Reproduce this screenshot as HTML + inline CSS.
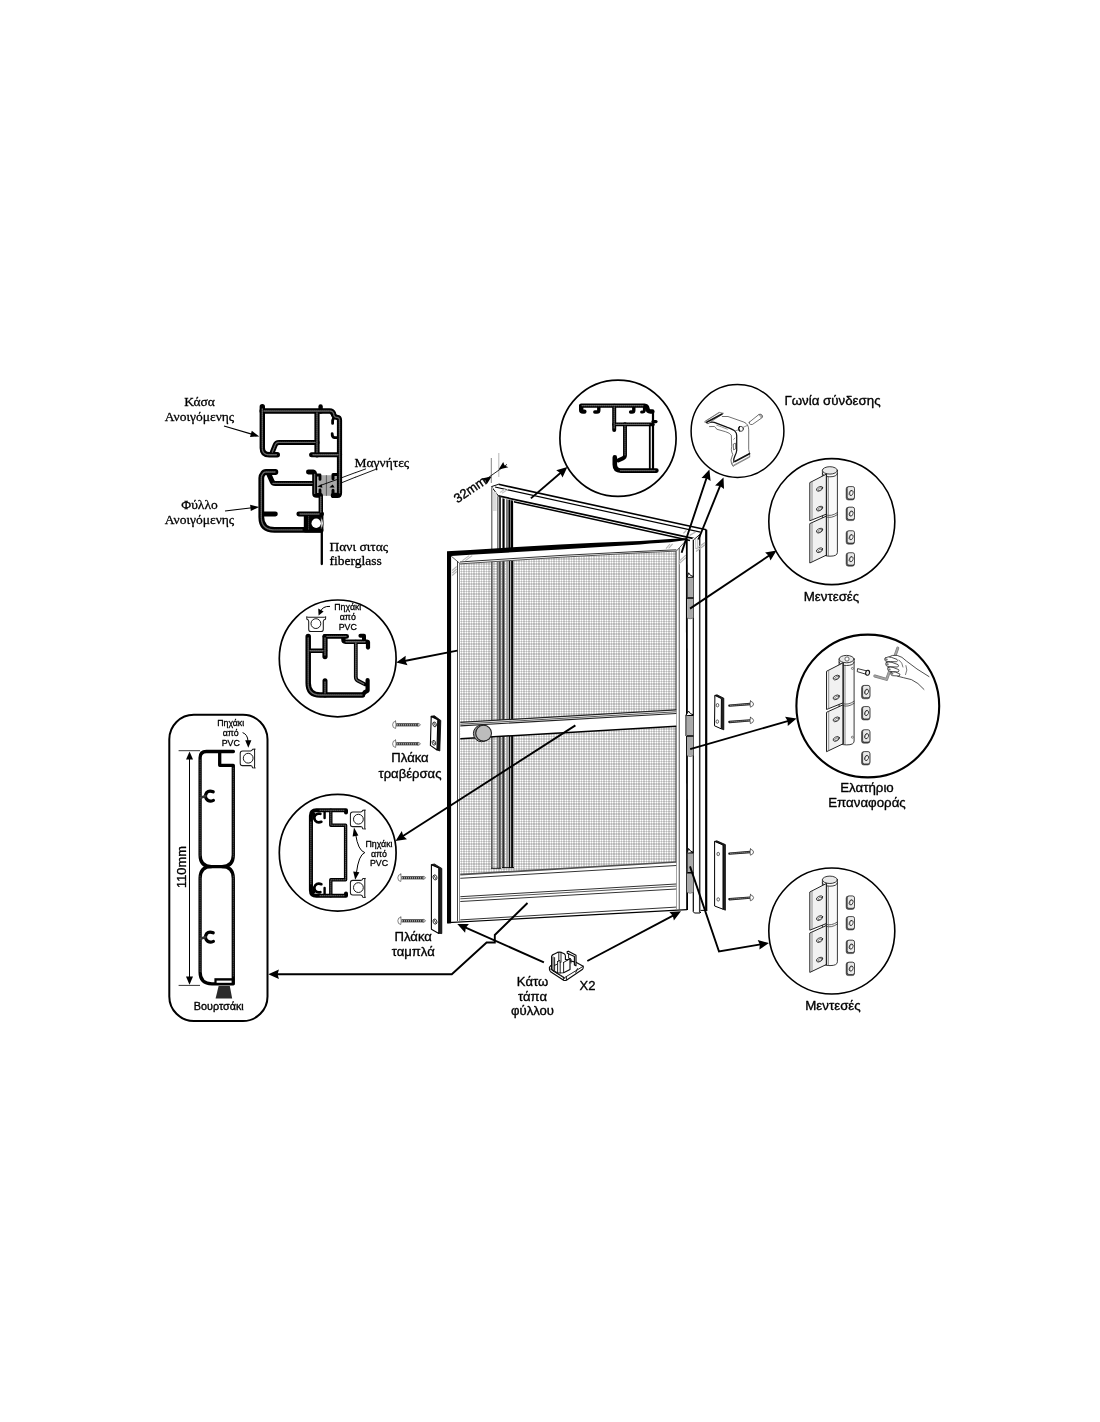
<!DOCTYPE html>
<html lang="el">
<head>
<meta charset="utf-8">
<title>Σίτα ανοιγόμενη - εξαρτήματα</title>
<style>
html,body{margin:0;padding:0;background:#fff;}
body{width:1100px;height:1422px;overflow:hidden;}
svg{display:block;will-change:transform;}
text{font-family:"Liberation Sans",sans-serif;fill:#000;stroke:#000;stroke-width:.35px;stroke-linejoin:round;}
.serif{font-family:"Liberation Serif",serif;stroke-width:.3px;}
.sm{stroke-width:.3px;}
.c{text-anchor:middle;}
.k{fill:none;stroke:#000;}
.pf{fill:none;stroke:#000;stroke-linecap:round;stroke-linejoin:round;}
.ph{fill:none;stroke:#666;stroke-linecap:round;stroke-linejoin:round;}
.g{fill:none;stroke:#555;stroke-width:.8;stroke-linecap:round;stroke-linejoin:round;}
</style>
</head>
<body>
<svg width="1100" height="1422" viewBox="0 0 1100 1422">
<defs>
<pattern id="mesh" width="5" height="5" patternUnits="userSpaceOnUse">
<rect width="5" height="5" fill="#b9b9b9"/>
<path d="M0 0h1v5h-1zM2 0h1v5h-1zM0 0h5v1h-5zM0 2h5v1h-5z" fill="#d8d8d8"/>
<path d="M0 0h1v1h-1zM2 0h1v1h-1zM0 2h1v1h-1zM2 2h1v1h-1z" fill="#fff"/>
</pattern>
</defs>
<rect width="1100" height="1422" fill="#fff"/>
<!-- 05_defs.svg -->
<defs>
<g id="pvc" fill="#fff" stroke="#1a1a1a" stroke-width="1.05" stroke-linejoin="round">
<path d="M-9.2 -6.9 Q-8 -6 -6.8 -6.4 H7.2 Q8.6 -6 9.8 -6.9 L9.6 -4.4 Q7.6 -4 7.4 -2.4 V5.6 Q7.4 8 5 8 H-4.8 Q-7.2 8 -7.2 5.6 V-2.4 Q-7.4 -4 -9 -4.4 Z"/>
<circle r="4.9" stroke-width="1"/>
</g>
<g id="hinge" stroke="#222" stroke-width=".9" stroke-linejoin="round" stroke-linecap="round">
<!-- barrel -->
<path d="M822.4 470.4 V552.4 Q822.6 556.2 830 556.2 Q837.4 556.2 837.4 552.4 V470.4 Z" fill="#fafafa"/>
<ellipse cx="829.9" cy="470.4" rx="7.5" ry="3.7" fill="#e9e9e9"/>
<path d="M822.4 473.4 Q823 476.8 829.9 476.8 Q836.8 476.8 837.4 473.4" fill="none"/>
<path d="M826 514.8 Q831 517 837.4 512.6 M826 516.8 Q831 519 837.4 514.6" fill="none" stroke-width=".7"/>
<!-- leaves -->
<path d="M826.2 474.2 L809.8 482.6 V520.8 L826.2 514.2 Z" fill="#f1f1f1" stroke-width="1"/>
<path d="M826.2 516.2 L809.8 523.6 V563 L826.2 555.2 Z" fill="#f1f1f1" stroke-width="1"/>
<path d="M812 481.8 V519.8 M812 522.8 V561.8" fill="none" stroke="#666" stroke-width=".7"/>
<path d="M826.4 474.4 V555.4" fill="none" stroke-width="1.2"/>
<path d="M828.3 476.8 V556" fill="none" stroke="#555" stroke-width=".7"/>
<!-- slots -->
<g fill="#fff" stroke="#222" stroke-width=".8">
<ellipse cx="819.6" cy="488.8" rx="3.4" ry="2" transform="rotate(-27 819.6 488.8)"/>
<ellipse cx="819.6" cy="508.6" rx="3.4" ry="2" transform="rotate(-27 819.6 508.6)"/>
<ellipse cx="819.6" cy="530.6" rx="3.4" ry="2" transform="rotate(-27 819.6 530.6)"/>
<ellipse cx="819.6" cy="550.2" rx="3.4" ry="2" transform="rotate(-27 819.6 550.2)"/>
</g>
<g fill="none" stroke="#444" stroke-width=".6">
<ellipse cx="819.9" cy="489.1" rx="2.2" ry="1" transform="rotate(-27 819.9 489.1)"/>
<ellipse cx="819.9" cy="508.9" rx="2.2" ry="1" transform="rotate(-27 819.9 508.9)"/>
<ellipse cx="819.9" cy="530.9" rx="2.2" ry="1" transform="rotate(-27 819.9 530.9)"/>
<ellipse cx="819.9" cy="550.5" rx="2.2" ry="1" transform="rotate(-27 819.9 550.5)"/>
</g>
</g>
<g id="nut" stroke="#222" stroke-linejoin="round">
<rect x="-4.3" y="-6.5" width="8.4" height="13.3" rx="2.2" fill="#555" stroke-width=".5"/>
<rect x="-3.2" y="-6.6" width="7.3" height="12.3" rx="1.9" fill="#e9e9e9" stroke-width=".7"/>
<ellipse cx=".6" cy="-.5" rx="1.8" ry="2.7" transform="rotate(22)" fill="#b5b5b5" stroke-width=".8"/>
<ellipse cx="1" cy="-.5" rx=".9" ry="1.6" transform="rotate(22)" fill="#fff" stroke="none"/>
</g>
</defs>

<!-- 10_door.svg -->
<g id="frame-back">
<!-- top beam -->
<polygon points="498.5,484.3 706.4,529.8 706.4,533 694,540.2 512.6,500.9 495.2,497 491.5,486.6" fill="#fff"/>
<path d="M498.5 484.3 L706.4 529.8" class="k" stroke-width="1.6"/>
<path d="M495 487 L700.5 532.2" class="k" stroke-width="1.2"/>
<path d="M498.3 495.9 L694 538.6" class="k" stroke-width="1.7"/>
<path d="M512.6 501.4 L690 540.4" class="k" stroke-width="1.5"/>
<path d="M491.5 486.6 L498.5 484.3 M491.5 486.6 L498.3 495.9 L498.3 500" class="k" stroke-width="1"/>
<path d="M500 492.5 l6 -4 M502 493.2 l6 -4" stroke="#c4c4c4" stroke-width="1.1" fill="none"/>
<rect x="492.4" y="492" width="4.2" height="19" fill="#dcdcdc"/>
<!-- right post -->
<rect x="692.6" y="538" width="13.8" height="373" fill="#fff"/>
<line x1="693.3" y1="540" x2="693.3" y2="911" stroke="#000" stroke-width="1.2"/>
<line x1="699.7" y1="535" x2="699.7" y2="912.5" stroke="#333" stroke-width="1.5"/>
<line x1="706.2" y1="529.8" x2="706.2" y2="910.5" stroke="#000" stroke-width="2.2"/>
<path d="M692.8 911 L694.4 913 H700 L701 912 M700.6 910.4 H707.3" class="k" stroke-width="1"/>
<path d="M693.4 540 L700.9 533.5" class="k" stroke-width=".9"/>
<path d="M696 549 l9 -6.6 M696 551.4 l9 -6.6 M683.4 533.4 l3 -3 M689.6 535.4 l6 -3.4" stroke="#b4b4b4" stroke-width="1.3" fill="none"/><path d="M695.6 539 v10 M697.4 538 v11" stroke="#c8c8c8" stroke-width="1" fill="none"/>
</g>
<g id="door">
<!-- post above the door -->
<g id="post-above">
<rect x="491" y="487.5" width="1" height="64.5" fill="#808080"/>
<rect x="492" y="487.5" width="1" height="64.5" fill="#c0c0c0"/>
<rect x="497" y="496.5" width="1" height="55.5" fill="#808080"/>
<rect x="498" y="496.5" width="1" height="55.5" fill="#b0b0b0"/>
<rect x="499" y="496.5" width="1" height="55.5" fill="#383838"/>
<rect x="500" y="496.5" width="1" height="55.5" fill="#303030"/>
<rect x="502" y="498.3" width="1" height="53.7" fill="#707070"/>
<rect x="503" y="498.5" width="1" height="53.5" fill="#000000"/>
<rect x="504" y="498.7" width="1" height="53.3" fill="#606060"/>
<rect x="506" y="499.2" width="1" height="52.8" fill="#787878"/>
<rect x="507" y="499.4" width="1" height="52.6" fill="#808080"/>
<rect x="508" y="499.6" width="1" height="52.4" fill="#606060"/>
<rect x="509" y="499.8" width="1" height="52.2" fill="#000000"/>
<rect x="510" y="500.1" width="1" height="51.9" fill="#787878"/>
<rect x="511" y="500.3" width="1" height="51.7" fill="#000000"/>
<rect x="512" y="500.5" width="1" height="51.5" fill="#000000"/>
<rect x="513" y="500.7" width="1" height="51.3" fill="#e0e0e0"/>
</g>
<!-- mesh -->
<polygon points="460,563.6 470,563 560,557.2 640,552.7 676.4,551 676.2,862 460,875" fill="url(#mesh)"/>
<!-- left post of fixed frame seen through mesh -->
<g id="post-through">
<rect x="491" y="558.0" width="1" height="310.0" fill="#606060"/>
<rect x="492" y="558.0" width="1" height="310.0" fill="#909090"/>
<rect x="497" y="558.0" width="1" height="310.0" fill="#7c7c7c"/>
<rect x="498" y="558.0" width="1" height="310.0" fill="#a0a0a0"/>
<rect x="499" y="558.0" width="1" height="310.0" fill="#505050"/>
<rect x="500" y="558.0" width="1" height="310.0" fill="#707070"/>
<rect x="502" y="558.0" width="1" height="310.0" fill="#686868"/>
<rect x="503" y="558.0" width="1" height="310.0" fill="#303030"/>
<rect x="504" y="558.0" width="1" height="310.0" fill="#888888"/>
<rect x="506" y="558.0" width="1" height="310.0" fill="#b0b0b0"/>
<rect x="507" y="558.0" width="1" height="310.0" fill="#a2a2a2"/>
<rect x="508" y="558.0" width="1" height="310.0" fill="#b0b0b0"/>
<rect x="509" y="558.0" width="1" height="310.0" fill="#101010"/>
<rect x="510" y="558.0" width="1" height="310.0" fill="#b0b0b0"/>
<rect x="511" y="558.0" width="1" height="310.0" fill="#202020"/>
<rect x="512" y="558.0" width="1" height="310.0" fill="#080808"/>
<rect x="513" y="558.0" width="1" height="310.0" fill="#a0a0a0"/>
<path d="M491 868.3 H501 M502 867.6 H514" class="k" stroke-width=".9"/>
</g>
<!-- door frame strips (white) -->
<polygon points="448,552 686.6,539.6 676.4,551 640,552.8 560,557.3 470,563.2 460,563.9" fill="#fff"/>
<polygon points="448,552 460,562 460,922 448,923" fill="#fff"/>
<polygon points="676.4,551 686.6,539.6 687.3,910 676.2,909.2" fill="#fff"/>
<!-- inner frame edges -->
<path d="M460 562 L470 561.3 L560 555.5 L640 551.4 L676.4 549.8" stroke="#333" stroke-width="1" fill="none" stroke-linejoin="round"/>
<path d="M460 563.9 L470 563.2 L560 557.3 L640 552.8 L676.4 551.1" stroke="#555" stroke-width="1" fill="none" stroke-linejoin="round"/>
<path d="M457.5 561 L457.5 921" stroke="#404040" stroke-width="1" fill="none"/>
<path d="M459.5 563.4 L459.5 921" stroke="#909090" stroke-width="1" fill="none"/>
<path d="M676 551.2 L676 909.2" stroke="#333" stroke-width="1.1" fill="none"/>
<path d="M679.3 548 L679.3 909.6" stroke="#777" stroke-width="1.3" fill="none"/>
<path d="M450.5 555.5 L460 563.6 M686 540.5 L676.4 551" stroke="#333" stroke-width=".8" fill="none"/>
<path d="M462.4 560.6 l6.8 -5 M465.4 560.6 l6.8 -5 M452.2 575.5 l4.5 -4 M452.2 573 l4.5 -4 M452.2 570.5 l4.5 -4 M666 548.6 l4 -4.6 M668.6 548.4 l4 -4.6 M678.8 564 l7 -6.4 M678.8 561.6 l7 -6.4" stroke="#b5b5b5" stroke-width="1.1" fill="none"/>
<!-- traverse bar -->
<polygon points="460.3,722.4 676.3,710 676.3,726.4 460.3,738.7" fill="#fff"/>
<path d="M460.3 722.3 L676.3 709.9" stroke="#222" stroke-width="1.2" fill="none"/>
<path d="M460.3 724.2 L676.3 711.8" stroke="#555" stroke-width="1" fill="none"/>
<path d="M460.3 725.9 L676.3 713.5" stroke="#222" stroke-width="1.1" fill="none"/>
<path d="M460.3 738.7 L676.3 726.3" class="k" stroke-width="1.5"/>
<!-- knob -->
<ellipse cx="481.6" cy="733.4" rx="8.2" ry="8.4" fill="#9b9b9b" stroke="#222" stroke-width="1"/>
<circle cx="483.6" cy="733.2" r="7.9" fill="#bcbcbc" stroke="#222" stroke-width="1.1"/>
<!-- bottom panel -->
<polygon points="460.3,875 676.2,862.2 676.2,909 460.3,921" fill="#fff"/>
<path d="M460.3 874.6 L676.2 862" stroke="#505050" stroke-width="1.7" fill="none"/>
<path d="M460.3 878.3 L676.2 865.5" stroke="#333" stroke-width="1" fill="none"/>
<path d="M460.3 896.7 L676.2 884" stroke="#333" stroke-width="1" fill="none"/>
<path d="M460.3 898.8 L676.2 886.1" stroke="#555" stroke-width="1" fill="none"/>
<path d="M460.3 901.5 L676.2 889" stroke="#333" stroke-width="1" fill="none"/>
<path d="M460.3 919.9 L676.2 907.1" stroke="#333" stroke-width="1" fill="none"/>
<!-- outer edges -->
<polygon points="447,551.3 470,549.9 560,544.5 596,542.7 640,540.9 670,539.1 686.9,538.3 686.9,540 670,542.3 650,543.5 640,544.5 596,547.3 560,549.6 470,554.8 451.1,556 451.1,923.2 447,923.4" fill="#000"/>
<path d="M686.8 538.5 L687.1 910" class="k" stroke-width="1.8"/>
<path d="M448 922.6 L687.1 909.7" class="k" stroke-width="1.2"/>
</g>
<g id="hinges">
<rect x="687.0" y="577" width="6.4" height="20.9" fill="#a9a9a9"/>
<rect x="687" y="597.9" width="6.4" height="20.1" fill="#a9a9a9"/>
<path d="M687.2 577 H693.4 M687 597.9 H693.4" stroke="#000" stroke-width="1.5" fill="none"/>
<path d="M687.3 577 L688.6 572.8 Q690 576 693 576.4" stroke="#000" stroke-width="1" fill="#fff"/>
<path d="M687.3 577 V597.9" stroke="#333" stroke-width="1" fill="none"/>
<path d="M687.4 618 Q690 619.6 693 618" stroke="#666" stroke-width=".8" fill="#a9a9a9"/>
<rect x="685.6" y="715.3" width="7.8" height="20.7" fill="#a9a9a9"/>
<rect x="687" y="736" width="6.4" height="19.7" fill="#a9a9a9"/>
<path d="M685.8000000000001 715.3 H693.4 M687 736 H693.4" stroke="#000" stroke-width="1.5" fill="none"/>
<path d="M685.9 715.3 L688.6 711.0999999999999 Q690 714.3 693 714.6999999999999" stroke="#000" stroke-width="1" fill="#fff"/>
<path d="M685.9 715.3 V736" stroke="#333" stroke-width="1" fill="none"/>
<path d="M687.4 755.7 Q690 757.3000000000001 693 755.7" stroke="#666" stroke-width=".8" fill="#a9a9a9"/>
<rect x="687.0" y="852.7" width="6.4" height="20.0" fill="#a9a9a9"/>
<rect x="687" y="872.7" width="6.4" height="19.7" fill="#a9a9a9"/>
<path d="M687.2 852.7 H693.4 M687 872.7 H693.4" stroke="#000" stroke-width="1.5" fill="none"/>
<path d="M687.3 852.7 L688.6 848.5 Q690 851.7 693 852.1" stroke="#000" stroke-width="1" fill="#fff"/>
<path d="M687.3 852.7 V872.7" stroke="#333" stroke-width="1" fill="none"/>
<path d="M687.4 892.4 Q690 894.0 693 892.4" stroke="#666" stroke-width=".8" fill="#a9a9a9"/>
</g>

<!-- 20_circles.svg -->
<g id="circles" fill="#fff" stroke="#000" stroke-width="1.8">
<circle cx="618" cy="438.3" r="58.1" stroke-width="1.7"/>
<circle cx="737.5" cy="431" r="46.4" stroke-width="1.5"/>
<circle cx="831.8" cy="521.6" r="63" stroke-width="1.6"/>
<circle cx="867.8" cy="706" r="71.4" stroke-width="2.1"/>
<circle cx="831.8" cy="931" r="63" stroke-width="1.6"/>
<circle cx="337.7" cy="658.4" r="58.4" stroke-width="1.7"/>
<circle cx="337.7" cy="852.7" r="58.4" stroke-width="1.7"/>
<rect x="169.3" y="714.8" width="98.2" height="306.2" rx="24.5" ry="24.5" stroke-width="2"/>
</g>

<!-- 30_arrows.svg -->
<g id="arrows">
<polyline points="530.9,498.4 561.0,472.5" fill="none" stroke="#000" stroke-width="1.9" stroke-linejoin="miter"/><polygon points="567.4,467.0 562.5,477.6 560.3,473.1 556.2,470.3" fill="#000"/>
<polyline points="681.6,552.8 706.7,477.5" fill="none" stroke="#000" stroke-width="1.9" stroke-linejoin="miter"/><polygon points="709.4,469.5 710.6,481.1 706.4,478.3 701.5,478.0" fill="#000"/>
<polyline points="698.4,539.5 720.3,485.4" fill="none" stroke="#000" stroke-width="1.9" stroke-linejoin="miter"/><polygon points="723.5,477.5 724.0,489.1 720.0,486.1 715.1,485.5" fill="#000"/>
<polyline points="690.0,608.6 769.6,555.3" fill="none" stroke="#000" stroke-width="1.9" stroke-linejoin="miter"/><polygon points="776.6,550.6 770.5,560.5 768.8,555.8 765.1,552.5" fill="#000"/>
<polyline points="690.2,749.2 788.5,720.8" fill="none" stroke="#000" stroke-width="1.9" stroke-linejoin="miter"/><polygon points="796.6,718.4 787.8,726.0 787.6,721.0 785.1,716.7" fill="#000"/>
<polyline points="690.0,866.4 719.0,951.5 760.6,944.4" fill="none" stroke="#000" stroke-width="1.9" stroke-linejoin="miter"/><polygon points="769.0,943.0 759.4,949.5 759.8,944.6 757.7,940.0" fill="#000"/>
<polyline points="457.3,650.6 404.5,661.0" fill="none" stroke="#000" stroke-width="1.9" stroke-linejoin="miter"/><polygon points="396.2,662.6 405.7,655.8 405.4,660.8 407.5,665.3" fill="#000"/>
<polyline points="575.4,725.4 402.6,836.3" fill="none" stroke="#000" stroke-width="1.9" stroke-linejoin="miter"/><polygon points="395.5,840.9 401.8,831.1 403.3,835.9 407.0,839.2" fill="#000"/>
<polyline points="527.5,903.0 494.8,935.0 494.8,942.5 486.6,942.5 451.8,974.2 276.8,974.2" fill="none" stroke="#000" stroke-width="1.9" stroke-linejoin="miter"/><polygon points="268.3,974.2 278.9,969.4 277.6,974.2 278.9,979.0" fill="#000"/>
<polyline points="543.9,962.3 465.1,927.4" fill="none" stroke="#000" stroke-width="1.9" stroke-linejoin="miter"/><polygon points="457.3,924.0 468.9,923.9 465.8,927.8 465.1,932.7" fill="#000"/>
<polyline points="587.3,961.0 673.5,915.3" fill="none" stroke="#000" stroke-width="1.9" stroke-linejoin="miter"/><polygon points="681.0,911.3 673.9,920.5 672.8,915.7 669.4,912.0" fill="#000"/>
<polyline points="224.0,426.0 252.5,434.4" fill="none" stroke="#000" stroke-width="1.1" stroke-linejoin="miter"/><polygon points="259.3,436.4 250.0,437.0 250.9,433.9 251.8,430.8" fill="#000"/>
<polyline points="225.0,511.0 252.2,507.7" fill="none" stroke="#000" stroke-width="1.1" stroke-linejoin="miter"/><polygon points="259.2,506.9 250.8,511.1 250.5,507.9 250.1,504.8" fill="#000"/>
<path d="M355 472.8 L366 468.8 M355 477.4 L375.6 469.4" stroke="#000" stroke-width=".9" fill="none"/>
</g>

<!-- 40_text.svg -->
<g id="labels">
<text class="serif c" font-size="13.5" x="199.5" y="406">Κάσα</text>
<text class="serif c" font-size="13.5" x="199.5" y="421">Ανοιγόμενης</text>
<text class="serif c" font-size="13.5" x="199.5" y="509">Φύλλο</text>
<text class="serif c" font-size="13.5" x="199.5" y="524">Ανοιγόμενης</text>
<text class="serif" font-size="13.5" x="354.5" y="467.4">Μαγνήτες</text>
<text class="serif" font-size="13.5" x="329.5" y="550.7">Πανι σιτας</text>
<text class="serif" font-size="13.5" x="329.5" y="564.7">fiberglass</text>
<text font-size="13.3" x="784.4" y="405.4">Γωνία σύνδεσης</text>
<text class="c" font-size="13.3" x="831.5" y="601">Μεντεσές</text>
<text class="c" font-size="13.3" x="867" y="792">Ελατήριο</text>
<text class="c" font-size="13.3" x="867" y="807.1">Επαναφοράς</text>
<text class="c" font-size="13.3" x="833" y="1010">Μεντεσές</text>
<text class="c" font-size="13.1" x="410" y="762">Πλάκα</text>
<text class="c" font-size="13.1" x="410" y="778">τραβέρσας</text>
<text class="c" font-size="13.1" x="413.2" y="941.2">Πλάκα</text>
<text class="c" font-size="13.1" x="413.2" y="956.2">ταμπλά</text>
<text class="c" font-size="13.1" x="532.5" y="986.2">Κάτω</text>
<text class="c" font-size="13.1" x="532.5" y="1001">τάπα</text>
<text class="c" font-size="13.1" x="532.5" y="1015.2">φύλλου</text>
<text font-size="13" x="579.5" y="989.5">X2</text>
<text class="c" font-size="10.8" x="218.8" y="1010">Βουρτσάκι</text>
<text class="c" font-size="12.9" transform="translate(186.3 867) rotate(-90)">110mm</text>
<text font-size="13" transform="translate(457.6 503.4) rotate(-34)">32mm</text>
<text class="c sm" font-size="8.8" x="347.8" y="610.3">Πηχάκι</text>
<text class="c sm" font-size="8.8" x="347.8" y="619.9">από</text>
<text class="c sm" font-size="8.8" x="347.8" y="629.6">PVC</text>
<text class="c sm" font-size="8.8" x="379" y="846.8">Πηχάκι</text>
<text class="c sm" font-size="8.8" x="379" y="856.5">από</text>
<text class="c sm" font-size="8.8" x="379" y="866.1">PVC</text>
<text class="c sm" font-size="8.8" x="230.7" y="725.8">Πηχάκι</text>
<text class="c sm" font-size="8.8" x="230.7" y="735.7">από</text>
<text class="c sm" font-size="8.8" x="230.7" y="745.5">PVC</text>
</g>

<!-- 50_section.svg -->
<g id="section-topleft">
<!-- magnets -->
<rect x="315.6" y="475.2" width="22" height="20.6" fill="#a9a9a9"/>
<line x1="326.4" y1="475.2" x2="326.4" y2="495.8" stroke="#444" stroke-width=".8"/>
<!-- Kasa (frame) profile -->
<g class="pf" stroke-width="5.4">
<path d="M262.3 406.8 V448 Q262.3 454.8 269.3 454.8 H277.3"/>
<path d="M262.3 411 H329.5 Q332.6 411 333.4 414" stroke-width="5.6"/>
<path d="M333.4 414 Q334.2 417.2 337 417.3 Q339.5 417.5 339.5 420.3 V493 Q339.5 495.4 337.5 495.4 H333.4" stroke-width="5.2"/>
<path d="M320.6 406.4 V411.6" stroke-width="4.4"/>
<path d="M317 411.6 V454.8" stroke-width="5.2"/>
<path d="M317 442.4 H279 Q276.2 442.4 275.3 444.8 L271.8 453.5" stroke-width="5"/>
<path d="M311.6 454.8 H339.6" stroke-width="5"/>
</g>
<g class="pf" stroke-width="2.8">
<path d="M334 417 L332.6 420.6 V423.4"/>
<path d="M338.5 437.6 H334.4 Q332 437.2 332.2 433.6"/>
<path d="M337.6 474.4 H333 V478.8 M337.6 494.8 H333 V490.2" stroke-width="3"/>
</g>
<!-- Fyllo (leaf) profile -->
<g class="pf" stroke-width="5.8">
<path d="M275.4 472 H266 Q264 472 263 473.6 Q261.3 475.6 261.3 478 V517 Q261.3 529.9 274.6 529.9 H320.4"/>
<path d="M268.6 473.6 L272.2 481.6 Q273 483.4 275.2 483.4 H313.5" stroke-width="5"/>
<path d="M308.4 472 H313 Q314.6 472.2 314.6 474.4 V493.4 Q314.6 495.4 316.6 495.4 H320" stroke-width="4.8"/>
<path d="M320.8 495.4 V514" stroke-width="4.4"/>
<path d="M262.5 514 H275.4" stroke-width="4.8"/>
<path d="M298.8 514 H321.6" stroke-width="4.8"/>
</g>
<g class="pf" stroke-width="2.8">
<path d="M316 475 H320 V479.4 M316 494.4 H320 V490"/>
</g>
<polygon points="317.2,486.6 321.6,484.2 322.4,487.8" fill="#000"/><polygon points="329.4,487.4 332.6,484.4 334.6,487.4" fill="#000"/>
<path d="M320 485.6 L337.4 479.4 M342 477.6 L355.4 472.6 M342 482.6 L355.4 477.2" stroke="#000" stroke-width=".9" fill="none"/>
<!-- pvc holder in leaf -->
<rect x="303.8" y="512" width="19.6" height="20.6" rx="1.6" fill="#000"/>
<path d="M321 517.6 Q325.6 523.2 321 529 Z" fill="#fff" stroke="#333" stroke-width=".7"/>
<circle cx="316.2" cy="523.2" r="4.7" fill="#fff"/>
<path d="M308.6 516.4 V530" stroke="#777" stroke-width=".9" stroke-dasharray="1 1"/>
<!-- mesh cloth -->
<line x1="321.8" y1="531" x2="321.8" y2="564" stroke="#000" stroke-width="2.3" stroke-linecap="round"/>
<!-- hatch highlight -->
<g class="ph" stroke-width="1.4" stroke-dasharray="1 1">
<path d="M262.3 409 V448 Q262.3 454.8 269.3 454.8 H277"/>
<path d="M264 411 H329.5 Q333.4 411 333.8 414.6 Q334.2 417.4 337 417.4 Q339.5 417.6 339.5 420.3 V493"/>
<path d="M317 413 V453"/>
<path d="M315 442.4 H279 Q276.2 442.4 275.3 444.8 L272.4 452"/>
<path d="M313 454.8 H338"/>
<path d="M275 472 H266 Q264 472 263 473.6 Q261.3 475.6 261.3 478 V517 Q261.3 529.9 274.6 529.9 H302"/>
<path d="M273 483.4 H313"/>
<path d="M314.6 474.4 V493.4"/>
<path d="M320.8 497 V512"/>
<path d="M300 514 H320"/>
</g>
</g>

<!-- 51_topcircle.svg -->
<g id="profile-top" class="pf" stroke-width="4.4">
<path d="M584.4 411.6 H583 Q581.2 411.6 581.2 410 V405.6 H644.4 Q647 405.8 647.4 408.4 Q647.8 411.4 650.4 411.5 H652.4" />
<path d="M598.8 405.7 V410.2 Q598.8 412 597 412 H594.8" stroke-width="3.4"/>
<path d="M633.8 405.7 V410.2 Q633.8 412 632 412 H630.6" stroke-width="3.4"/>
<path d="M644.4 407 V410.4 Q644.2 412 642.4 412 H641.6" stroke-width="3"/>
<path d="M614.2 405.7 V430" stroke-width="4"/>
<path d="M614.2 424.4 H652.8" stroke-width="3.8"/>
<path d="M653 411.6 V470.6" stroke-width="2.2"/>
<path d="M649.8 424.3 V470.6" stroke-width="1.8"/>
<path d="M653 421.6 H656" stroke-width="3.2"/>
<path d="M625 424.3 V455.2 Q625 457.4 622.8 458.4 L618.4 460.4" stroke-width="3.9"/>
<path d="M614.8 457.4 V464.6 Q614.8 470.6 620.8 470.6 H656.4" stroke-width="4.6"/>
</g>
<g class="ph" stroke-width="1.1" stroke-dasharray="1 1">
<path d="M582 405.6 H644"/><path d="M614.2 407 V428"/><path d="M616 424.4 H650"/><path d="M625 426 V455"/><path d="M620.4 470.6 H655"/>
</g>

<!-- 52_circle1.svg -->
<g id="profile-c1" class="pf" stroke-width="5.5">
<path d="M308.2 636.4 V683 Q308.2 695 320.2 695 H362.4"/>
<path d="M308.2 650.8 H325" stroke-width="4.6"/>
<path d="M325 636.6 V656.6" stroke-width="5.2"/>
<path d="M325 636.4 H346.6" stroke-width="4.8"/>
<path d="M343.4 637 V639.6 Q343.4 641.7 345.5 641.7 H367" stroke-width="4.4"/>
<path d="M360.4 635.8 H364 V640" stroke-width="4"/>
<path d="M368 642 V647.6" stroke-width="4.2"/>
<path d="M355.8 641.7 V677 Q355.8 679.6 358 680.8 L365 684.4" stroke-width="3.8"/>
<path d="M367.6 680 V690.6 L364.6 692.4 L363 694.6" stroke-width="4.2"/>
<path d="M325 680.8 V695" stroke-width="5"/>
</g>
<g class="ph" stroke-width="1.4" stroke-dasharray="1 1">
<path d="M308.2 638 V683 Q308.2 695 320.2 695 H362"/><path d="M310 650.8 H324"/><path d="M325 638 V655"/><path d="M327 636.4 H346"/><path d="M346 641.7 H366"/><path d="M355.8 643 V677 Q355.8 679.6 358 680.8 L364 684"/><path d="M325 682 V693"/>
</g>
<use href="#pvc" x="315.9" y="623.6"/>
<path d="M330 606.4 Q322.6 606 320.4 611.6" class="k" stroke-width="1"/>
<polygon points="318.6,615.6 318.2,608.4 323.6,611.6" fill="#000"/>

<!-- 53_circle2.svg -->
<g id="profile-c2" class="pf" stroke-width="4">
<path d="M346 812.6 V810.3 H316.4 Q310.9 810.3 310.9 815.8 V890.2 Q310.9 895.7 316.4 895.7 H346 V893.4"/>
<path d="M330.8 810.3 V825.2 H345.6 V879.8 H330.8 V895.7" stroke-width="3.4"/>
<path d="M321.4 821.8 Q317.6 823.4 315.2 820.6 Q313.2 817.6 315.4 815 Q317.4 813 320.4 813.8" stroke-width="2.6"/>
<path d="M324.6 812.6 V818" stroke-width="2.4"/>
<path d="M321.4 884.2 Q317.6 882.6 315.2 885.4 Q313.2 888.4 315.4 891 Q317.4 893 320.4 892.2" stroke-width="2.6"/>
<path d="M324.6 893.4 V888" stroke-width="2.4"/>
</g>
<path d="M312.3 813 H315 V817 L313 820 V886 L315 889 V893 H312.3 Z" fill="#000"/>
<g class="ph" stroke-width="1" stroke-dasharray="1 1.1">
<path d="M310.9 822 V884"/><path d="M330.8 812 V825.2 H345.6 V879.8 H330.8 V894"/><path d="M320 810.3 H344"/><path d="M320 895.7 H344"/>
</g>
<use href="#pvc" transform="translate(358.4 819.2) rotate(90)"/>
<use href="#pvc" transform="translate(358.4 887.6) rotate(90)"/>
<path d="M364.8 852.6 Q358 850.6 355.6 834" class="k" stroke-width="1"/>
<path d="M364.8 852.6 Q358.6 855 356.4 873" class="k" stroke-width="1"/>
<polygon points="354,827.6 358.4,835.6 352.6,836.4" fill="#000"/>
<polygon points="355.2,879.8 353.2,871.4 359.4,872.2" fill="#000"/>

<!-- 54_box.svg -->
<g id="profile-box" class="pf" stroke-width="3.3">
<path d="M233.4 751.5 H206.4 Q200.1 751.5 200.1 757.8 V855 Q200.1 866.6 211.4 866.6 H222 Q233.3 866.6 233.3 855 V765.3 H219.7 V751.5"/>
<path d="M211.4 866.6 Q200.1 866.6 200.1 878.2 V972 Q200.1 983.8 212 983.8 H233.3 V878.2 Q233.3 866.6 222 866.6"/>
<path d="M213.4 800.4 Q208.8 802.4 206.2 798.6 Q204.6 795.6 206.6 792.6 Q209 790 213.2 791.8" stroke-width="3.2"/><path d="M201 797.6 L205.6 796" stroke="#333" stroke-width="2.4"/>
<path d="M213.4 941.4 Q208.8 943.4 206.2 939.6 Q204.6 936.6 206.6 933.6 Q209 931 213.2 932.8" stroke-width="3.2"/><path d="M201 938.6 L205.6 937" stroke="#333" stroke-width="2.4"/>
</g>
<g class="ph" stroke-width=".7" stroke-dasharray="1 1.2">
<path d="M200.1 760 V857"/><path d="M233.3 768 V857"/><path d="M200.1 876 V972"/><path d="M233.3 876 V976"/>
</g>
<rect x="214.4" y="978.2" width="19.8" height="6.6" fill="#000"/>
<rect x="216.6" y="980.6" width="15" height="2.2" fill="#fff"/>
<polygon points="218.6,986 229.8,986 232.2,998.4 215.6,998.4" fill="#2a2a2a"/>
<g class="k" stroke-width=".8">
<path d="M178.6 750.7 H200 M178.6 985.4 H200"/>
<path d="M189.5 756 V980" stroke-width="1"/>
</g>
<polygon points="189.5,751.4 193,759.6 186,759.6" fill="#000"/>
<polygon points="189.5,984.8 193,976.6 186,976.6" fill="#000"/>
<use href="#pvc" transform="translate(248.2 758.2) rotate(90)"/>
<path d="M242.6 732.6 Q247.6 734.4 248 741" class="k" stroke-width="1"/>
<polygon points="248.3,747.8 245.2,740.2 251.4,740.2" fill="#000"/>

<!-- 55_hinges.svg -->
<g id="hinge-top">
<use href="#hinge"/>
<use href="#nut" x="850.4" y="493.2"/><use href="#nut" x="850.4" y="513.8"/><use href="#nut" x="850.4" y="537.4"/><use href="#nut" x="850.4" y="559.4"/>
</g>
<g id="hinge-bottom" transform="translate(0 409.4)">
<use href="#hinge"/>
<use href="#nut" x="850.4" y="493.2"/><use href="#nut" x="850.4" y="513.8"/><use href="#nut" x="850.4" y="537.4"/><use href="#nut" x="850.4" y="559.4"/>
</g>
<g id="hinge-spring">
<use href="#hinge" transform="translate(16.7 188.7)"/>
<circle cx="847" cy="659" r="2.1" fill="#fff" stroke="#333" stroke-width=".7"/>
<circle cx="852.4" cy="668.4" r="1" fill="#fff" stroke="#333" stroke-width=".6"/>
<circle cx="852.4" cy="737.2" r="1" fill="#fff" stroke="#333" stroke-width=".6"/>
<use href="#nut" x="865.8" y="692"/><use href="#nut" x="865.8" y="713.2"/><use href="#nut" x="865.8" y="736.4"/><use href="#nut" x="865.8" y="758.2"/>
<!-- pin -->
<path d="M857.6 668.6 L866.4 670.8 L865.8 674.2 L857.2 671.6 Z" fill="#fff" stroke="#222" stroke-width=".9" stroke-linejoin="round"/>
<ellipse cx="867.6" cy="672.8" rx="1.9" ry="2.5" fill="#f4f4f4" stroke="#111" stroke-width="1.1" transform="rotate(15 867.6 672.8)"/>
<!-- allen key -->
<path d="M874.8 676 L886.6 679.4 L897.8 648" fill="none" stroke="#7a7a7a" stroke-width="2.9" stroke-linejoin="round" stroke-linecap="round"/>
<path d="M874.8 676 L886.6 679.4 L897.8 648" fill="none" stroke="#a4a4a4" stroke-width="1.7" stroke-linejoin="round" stroke-linecap="round"/>
<!-- hand -->
<g fill="#fff" stroke="#222" stroke-width=".8" stroke-linejoin="round" stroke-linecap="round">
<path d="M888.6 657 Q892 654.6 897.2 655.4 Q902 656.4 906.6 661.2 Q916 669 929 676.6 L924 689.4 Q918 682.4 911.4 679.6 Q903 677.6 897.6 676.2 L891.4 674.6 Q889.4 672 891.4 670.6 L887 668.4 Q884.6 666 886.4 663.8 L885 662.4 Q883 659.8 885 658.2 Q887 656.6 888.6 657 Z" stroke="none"/>
<path d="M888.6 657 Q892 654.6 897.2 655.4 Q902 656.4 906.6 661.2 Q916 669 929 676.6" fill="none"/>
<path d="M924 689.4 Q918 682.4 911.4 679.6 Q903 677.6 897.6 676.2" fill="none"/>
<path d="M885.2 658 Q888 656 891.6 657.4 L897 659.4 Q898.6 660.6 896.6 661.8 L890.6 661.6 Q886 662 885 660.6 Q884.2 659 885.2 658 Z"/>
<path d="M886.2 662.6 Q888.6 661.4 892 662.4 L898 664.6 Q899.4 666 897.6 667 L891 666.8 Q887 667 886 665.4 Q885.4 663.6 886.2 662.6 Z"/>
<path d="M888 667.6 Q890 666.6 893 667.4 L898.6 669.6 Q899.8 671 898 672 L892.6 671.6 Q889 671.8 888 670.4 Q887.4 668.6 888 667.6 Z"/>
<path d="M891 672.4 Q893 671.4 895.6 672.2 L899.6 673.8 Q900.6 675 899 676 L895 675.8 Q892 676 891 674.8 Q890.4 673.4 891 672.4 Z"/>
<path d="M899 660 Q902.6 662.6 903 667 M906 665.6 Q908 670 905.6 674.6" fill="none" stroke-width=".6"/>
</g>
<ellipse cx="886.4" cy="659.6" rx="1.4" ry="1.1" fill="#777"/><ellipse cx="887.4" cy="664.4" rx="1.4" ry="1.1" fill="#777"/><ellipse cx="889.4" cy="669.4" rx="1.3" ry="1" fill="#777"/><ellipse cx="892.2" cy="673.8" rx="1.2" ry="1" fill="#777"/>
</g>

<!-- 56_plates.svg -->
<defs>
<g id="screwL" stroke-linecap="round">
<path d="M2.4 0 H24.4" stroke="#2e2e2e" stroke-width="3.1" stroke-linecap="butt"/>
<path d="M3 0 H23.6" stroke="#c9c9c9" stroke-width="1.3" stroke-dasharray="1.1 .9" stroke-linecap="butt"/>
<path d="M24.4 -1.5 Q26.6 -1 26.6 0 Q26.6 1 24.4 1.5 Z" fill="#ddd" stroke="#444" stroke-width=".6"/>
<path d="M1.8 -3.7 Q-1.2 -3.4 -1.2 0 Q-1.2 3.4 1.8 3.7 Q2.6 0 1.8 -3.7 Z" fill="#fff" stroke="#666" stroke-width=".8"/>
</g>
<g id="screwR" stroke-linecap="round">
<path d="M0 1.6 L21 0" stroke="#1a1a1a" stroke-width="2.4"/>
<path d="M1 1.5 L20 .1" stroke="#8a8a8a" stroke-width=".8" stroke-dasharray="1 1"/>
<path d="M21 -3 Q24 -2 24.2 0 Q24 2.4 21 3.2 Q20.2 0 21 -3 Z" fill="#fff" stroke="#444" stroke-width=".8"/>
</g>
</defs>
<g id="plate-trav">
<use href="#screwL" x="393.8" y="724.8"/>
<use href="#screwL" x="393.8" y="743.8"/>
<path d="M431.2 716.2 L434.4 715.8 L440.8 720.4 L439.8 751 L436.6 749.8 Z" fill="#111" stroke="#000" stroke-width=".8" stroke-linejoin="round"/>
<path d="M431.2 716.4 L437.8 719.8 L437 750 L430.4 745.4 Z" fill="#fff" stroke="#000" stroke-width="1.1" stroke-linejoin="round"/>
<ellipse cx="434.6" cy="724.4" rx="1.7" ry="2.5" fill="#fff" stroke="#111" stroke-width=".8" transform="rotate(-20 434.6 724.4)"/>
<ellipse cx="433.9" cy="742.8" rx="1.7" ry="2.5" fill="#fff" stroke="#111" stroke-width=".8" transform="rotate(-20 433.9 742.8)"/>
<path d="M433.6 722.6 l2 3.4 M432.9 741 l2 3.4" stroke="#111" stroke-width=".7"/>
</g>
<g id="plate-tabla">
<use href="#screwL" x="399" y="877.8"/>
<use href="#screwL" x="399" y="920.8"/>
<path d="M431.4 864.6 L434.4 864 L441.8 868.4 V933.6 L438.4 933.2 Z" fill="#222" stroke="#000" stroke-width=".8" stroke-linejoin="round"/>
<path d="M431.4 864.8 L438.8 868 V933.4 L431.4 929.2 Z" fill="#fff" stroke="#000" stroke-width="1.1" stroke-linejoin="round"/>
<ellipse cx="435" cy="877.4" rx="1.9" ry="2.6" fill="#fff" stroke="#111" stroke-width=".8" transform="rotate(-20 435 877.4)"/>
<ellipse cx="435" cy="921.6" rx="1.9" ry="2.6" fill="#fff" stroke="#111" stroke-width=".8" transform="rotate(-20 435 921.6)"/>
<path d="M434 875.6 l2 3.6 M434 919.8 l2 3.6" stroke="#111" stroke-width=".7"/>
</g>
<g id="plate-right-mid">
<path d="M714.9 695.4 L717 694.8 L723.8 698.2 V729.8 L720.6 728.6 Z" fill="#222" stroke="#000" stroke-width=".8" stroke-linejoin="round"/>
<path d="M714.9 695.4 L721.4 698.6 L721.2 728.8 L714.5 725.8 Z" fill="#fff" stroke="#000" stroke-width="1" stroke-linejoin="round"/>
<ellipse cx="717.5" cy="705.2" rx="1.3" ry="1.7" fill="#fff" stroke="#222" stroke-width=".7"/>
<ellipse cx="717.3" cy="721.6" rx="1.3" ry="1.7" fill="#fff" stroke="#222" stroke-width=".7"/>
<use href="#screwR" x="729.4" y="704"/>
<use href="#screwR" x="729.4" y="720.4"/>
</g>
<g id="plate-right-bot">
<path d="M714.6 841.4 L716.8 840.8 L725.4 844.6 V910.2 L722.6 909 Z" fill="#222" stroke="#000" stroke-width=".8" stroke-linejoin="round"/>
<path d="M714.6 841.4 L723 845 V909.2 L714.6 906 Z" fill="#fff" stroke="#000" stroke-width="1" stroke-linejoin="round"/>
<ellipse cx="718.2" cy="854" rx="1.3" ry="1.7" fill="#fff" stroke="#222" stroke-width=".7"/>
<ellipse cx="718.2" cy="899.4" rx="1.3" ry="1.7" fill="#fff" stroke="#222" stroke-width=".7"/>
<use href="#screwR" x="729.4" y="852"/>
<use href="#screwR" x="729.4" y="897.6"/>
</g>

<!-- 57_misc.svg -->
<g id="cap" fill="#fff" stroke="#0a0a0a" stroke-width="1.15" stroke-linejoin="round" stroke-linecap="round">
<!-- base -->
<path d="M549.4 967.4 Q549 970.6 550.6 971.8 L563.6 980.2 Q564.8 980.8 566.4 980.2 L582.6 969.2 Q583.6 968.4 583.2 966.2 L576.4 962.4 L563.6 959.2 L551 965.4 Z"/>
<path d="M550 968.8 L564.6 977.6 L583 966.4 M563.4 977.4 V980 M566.4 977 V979.8 M552.4 970.6 L564.8 978.4" fill="none" stroke-width=".9"/>
<path d="M577.4 968.6 L575.8 972.4" fill="none" stroke-width=".9"/>
<!-- rear tab -->
<path d="M567.2 951.6 L568.4 951.2 L576 955.2 V965.8 L574.4 965 V956.6 L567.2 953.2 Z"/>
<path d="M568.6 953.8 V958 L571 959 V963" fill="none" stroke-width=".9"/>
<!-- body -->
<path d="M551.6 956.4 Q552 955 553.4 954.4 L557.4 952.4 Q559.4 951.8 561.4 952.4 L564.2 953.8 Q565.4 954.6 565.4 956 V959.4 L567 960 L570 958.6 V969.4 L563.6 972.8 L557.6 973 L551.6 969.4 Z"/>
<path d="M553 957 V969.6 M554.6 957.6 V970.4 M557.6 961.4 V972.8 M560.2 962.6 V973 M563.6 962.4 V972.6 M558.8 952.6 V961 M561 953 V962 M557.6 961.4 L559.8 960.4 L560.2 962.6 M563.6 962.4 L570 958.8 M554.6 965.4 L557.4 964" fill="none" stroke-width=".9"/>
</g>
<g id="cornerpiece" fill="none" stroke="#1e1e1e" stroke-width=".8" stroke-linejoin="round" stroke-linecap="round">
<path d="M722.3 416.5 L728.0 416.5 L744.5 422.2 L747.4 424.7 L748.7 429.2 L748.7 449.5 L749.6 453.4 L734.7 461.6 L736.6 450.8 L736.6 434.9 L734.4 430.5 L727.4 427.3 L714.0 422.2 L707.6 422.8 L705.4 421.9 L719.1 412.3 L723.5 413.3 Z" fill="#fff" stroke="none"/>
<path d="M722.3 416.5 L728.0 416.5 L743.9 422.1 Q748.7 424.1 748.7 429.8 L748.7 449.5 L749.6 453.4" stroke-width=".7" stroke="#333"/>
<path d="M707.6 422.9 Q710.8 421.7 714.3 422.3 L727.4 427.3 Q733.1 429.3 734.9 431.1 Q736.8 433.0 736.7 435.5 L736.7 450.5 Q736.4 453.4 734.9 455.9 Q733.1 459.1 733.9 462.3" stroke-width="1.25" stroke="#111"/>
<path d="M709.5 426.6 L714.3 426.5 Q715.9 427.4 716.7 429.2 L725.5 431.7 Q729.9 433.0 731.3 435.2 L731.7 446.4 Q730.9 449.5 731.8 452.1 Q733.7 454.3 731.8 457.2 Q730.2 459.7 731.5 463.5 L733.1 466.2" stroke-width=".7" stroke="#333"/>
<path d="M716.7 425.2 Q721.0 426.6 727.4 429.2 M733.7 439.4 L734.9 438.1" stroke-width=".6" stroke="#555"/>
<path d="M733.7 443.9 L735.5 443.2 L735.6 448.9 L733.9 449.7 Z" stroke-width=".6"/>
<path d="M704.8 421.7 L719.1 412.3 L723.5 413.3 L708.3 423.6 Z" stroke-width=".6" stroke="#444" fill="#fff"/>
<path d="M706.7 422.3 L722.0 414.0" stroke-width="1.6" stroke="#111"/>
<path d="M705.6 420.9 L719.1 412.8" stroke-width=".7" stroke="#666"/>
<path d="M734.7 461.6 L749.6 453.4 L749.8 457.1 L733.1 466.2 L732.1 463.9 Z" stroke-width=".6" stroke="#444" fill="#fff"/>
<path d="M734.9 461.5 L749.5 453.7" stroke-width="1.6" stroke="#111"/>
<path d="M733.7 465.1 L749.3 456.7" stroke-width=".7" stroke="#666"/>
<circle cx="740.9" cy="428.9" r="2.5" fill="#fff" stroke-width=".8"/>
<path d="M739.6 430.8 Q737.9 428.9 739.6 426.6" stroke-width="1.3" stroke="#111"/>
<path d="M743.3 427.3 L747.2 425.5 M735.6 430.8 L738.2 429.8" stroke-width=".6" stroke="#444"/>
<path d="M749.3 422.2 L758.9 414.5 Q761.1 413.6 762.4 415.5 Q763.0 417.1 761.4 418.2 L752.5 424.4 Q750.6 425.0 749.5 423.8 Q748.9 422.9 749.3 422.2 Z" fill="#fff" stroke-width=".7" stroke="#333"/>
<path d="M758.9 414.5 Q760.5 416.5 761.4 418.2 M759.8 414.2 L762.0 417.4 M760.8 414.2 L762.5 416.6" stroke-width=".6" stroke="#666"/>
</g>
<g id="dim32">
<line x1="491.3" y1="458" x2="491.3" y2="483" stroke="#777" stroke-width=".9"/>
<line x1="498.8" y1="453" x2="498.8" y2="477" stroke="#bdbdbd" stroke-width="1.1"/>
<line x1="484" y1="480.6" x2="507" y2="464.4" stroke="#111" stroke-width=".9"/>
<polygon points="491.6,476.4 486.8,484.2 485.4,480.4 481.6,478.4" fill="#000"/>
<polygon points="498.6,469.6 503.2,462 504.6,465.6 508.4,467.2" fill="#000"/>
</g>

</svg>
</body>
</html>
